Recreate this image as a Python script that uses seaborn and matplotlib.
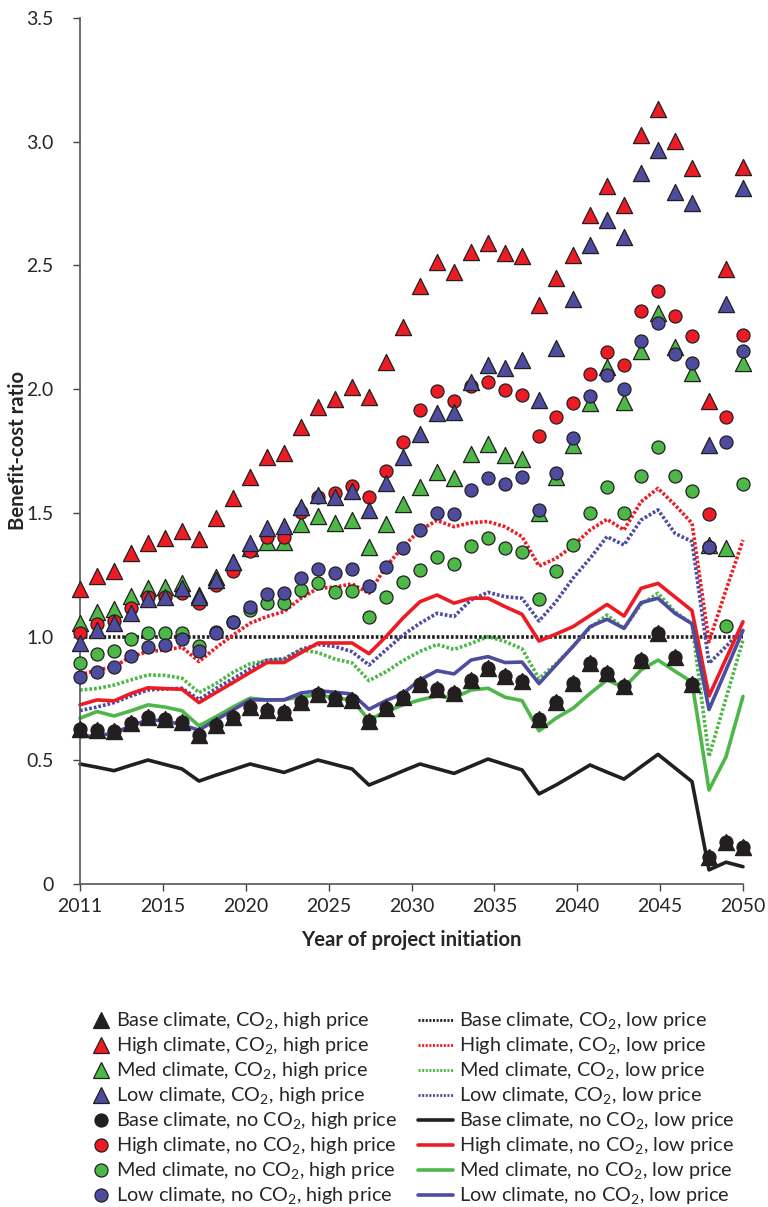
import numpy as np
import pandas as pd
import matplotlib
matplotlib.use("Agg")
import matplotlib.pyplot as plt
from matplotlib.lines import Line2D
import seaborn as sns

years = list(range(2011, 2051))

# ---- marker series (high price) ----
base_co2_high = [0.625, 0.622, 0.620, 0.650, 0.676, 0.666, 0.656, 0.602, 0.643, 0.676,
                 0.714, 0.703, 0.697, 0.735, 0.768, 0.751, 0.744, 0.660, 0.710, 0.755,
                 0.808, 0.787, 0.773, 0.825, 0.874, 0.841, 0.820, 0.666, 0.737, 0.811,
                 0.895, 0.854, 0.800, 0.905, 1.013, 0.919, 0.808, 0.110, 0.171, 0.148]
high_co2_high = [1.191, 1.245, 1.266, 1.337, 1.380, 1.400, 1.428, 1.393, 1.478, 1.559,
                 1.646, 1.724, 1.743, 1.848, 1.929, 1.959, 2.010, 1.967, 2.111, 2.253,
                 2.417, 2.515, 2.475, 2.556, 2.589, 2.552, 2.538, 2.339, 2.448, 2.542,
                 2.704, 2.819, 2.744, 3.027, 3.131, 3.003, 2.893, 1.952, 2.484, 2.897]
med_co2_high = [1.056, 1.101, 1.110, 1.164, 1.195, 1.200, 1.218, 1.170, 1.240, 1.300,
                1.357, 1.384, 1.384, 1.455, 1.487, 1.460, 1.471, 1.363, 1.455, 1.537,
                1.605, 1.665, 1.640, 1.736, 1.779, 1.734, 1.719, 1.498, 1.646, 1.774,
                1.943, 2.091, 1.950, 2.155, 2.309, 2.172, 2.064, 1.370, 1.357, 2.104]
low_co2_high = [0.975, 1.027, 1.054, 1.094, 1.151, 1.161, 1.195, 1.161, 1.229, 1.303,
                1.377, 1.438, 1.447, 1.525, 1.572, 1.566, 1.590, 1.512, 1.620, 1.726,
                1.820, 1.902, 1.909, 2.030, 2.098, 2.084, 2.118, 1.956, 2.165, 2.363,
                2.583, 2.684, 2.616, 2.875, 2.967, 2.798, 2.751, 1.774, 2.344, 2.811]
base_noco2_high = [0.625, 0.622, 0.620, 0.650, 0.676, 0.666, 0.656, 0.602, 0.643, 0.676,
                   0.714, 0.703, 0.697, 0.735, 0.768, 0.751, 0.744, 0.660, 0.710, 0.755,
                   0.808, 0.787, 0.773, 0.825, 0.874, 0.841, 0.820, 0.666, 0.737, 0.811,
                   0.895, 0.854, 0.800, 0.905, 1.013, 0.919, 0.808, 0.110, 0.171, 0.148]
high_noco2_high = [1.013, 1.051, 1.064, 1.114, 1.159, 1.161, 1.178, 1.135, 1.209, 1.263,
                   1.347, 1.401, 1.401, 1.502, 1.566, 1.579, 1.609, 1.563, 1.671, 1.788,
                   1.916, 1.992, 1.952, 2.013, 2.030, 1.997, 1.977, 1.811, 1.886, 1.946,
                   2.060, 2.152, 2.098, 2.317, 2.397, 2.296, 2.215, 1.496, 1.886, 2.219]
med_noco2_high = [0.895, 0.930, 0.943, 0.989, 1.016, 1.016, 1.013, 0.962, 1.020, 1.060,
                  1.108, 1.137, 1.137, 1.188, 1.215, 1.182, 1.186, 1.080, 1.159, 1.221,
                  1.269, 1.321, 1.292, 1.366, 1.400, 1.357, 1.343, 1.153, 1.263, 1.370,
                  1.498, 1.603, 1.498, 1.650, 1.765, 1.650, 1.588, 1.360, 1.043, 1.617]
low_noco2_high = [0.838, 0.858, 0.876, 0.922, 0.957, 0.966, 0.989, 0.943, 1.016, 1.060,
                  1.118, 1.172, 1.175, 1.238, 1.273, 1.258, 1.272, 1.206, 1.283, 1.357,
                  1.431, 1.498, 1.496, 1.594, 1.639, 1.616, 1.644, 1.510, 1.663, 1.801,
                  1.972, 2.057, 2.000, 2.196, 2.266, 2.142, 2.104, 1.363, 1.788, 2.156]

# ---- line series (low price) ----
base_co2_low = [1.0] * 40
high_co2_low = [0.845, 0.865, 0.878, 0.919, 0.939, 0.946, 0.957, 0.899, 0.955, 1.006,
                1.054, 1.081, 1.101, 1.155, 1.195, 1.200, 1.213, 1.175, 1.283, 1.363,
                1.431, 1.469, 1.444, 1.460, 1.465, 1.444, 1.404, 1.285, 1.316, 1.366,
                1.431, 1.474, 1.431, 1.545, 1.599, 1.532, 1.458, 0.979, 1.188, 1.390]
med_co2_low = [0.784, 0.790, 0.804, 0.825, 0.845, 0.843, 0.832, 0.773, 0.810, 0.855,
               0.890, 0.903, 0.905, 0.946, 0.935, 0.909, 0.894, 0.822, 0.858, 0.903,
               0.940, 0.968, 0.948, 0.972, 1.000, 0.980, 0.951, 0.830, 0.890, 0.960,
               1.035, 1.087, 1.033, 1.130, 1.175, 1.100, 1.052, 0.515, 0.750, 0.986]
low_co2_low = [0.701, 0.715, 0.733, 0.760, 0.784, 0.788, 0.791, 0.746, 0.790, 0.830,
               0.870, 0.905, 0.910, 0.948, 0.968, 0.960, 0.939, 0.885, 0.946, 1.006,
               1.054, 1.094, 1.081, 1.148, 1.179, 1.161, 1.155, 1.063, 1.141, 1.236,
               1.316, 1.404, 1.370, 1.471, 1.512, 1.417, 1.384, 0.892, 0.960, 1.030]
base_noco2_low = [0.485, 0.472, 0.458, 0.480, 0.501, 0.483, 0.465, 0.416, 0.440, 0.462,
                  0.485, 0.468, 0.451, 0.476, 0.501, 0.483, 0.465, 0.400, 0.428, 0.457,
                  0.485, 0.466, 0.447, 0.476, 0.505, 0.483, 0.461, 0.364, 0.400, 0.440,
                  0.481, 0.452, 0.424, 0.474, 0.524, 0.469, 0.414, 0.057, 0.088, 0.070]
high_noco2_low = [0.724, 0.744, 0.740, 0.770, 0.793, 0.790, 0.787, 0.733, 0.774, 0.814,
                  0.855, 0.895, 0.895, 0.935, 0.974, 0.974, 0.974, 0.931, 1.000, 1.075,
                  1.141, 1.168, 1.135, 1.155, 1.155, 1.121, 1.090, 0.982, 1.010, 1.040,
                  1.085, 1.130, 1.083, 1.195, 1.215, 1.160, 1.105, 0.760, 0.910, 1.060]
med_noco2_low = [0.670, 0.697, 0.679, 0.700, 0.724, 0.715, 0.700, 0.639, 0.676, 0.715,
                 0.751, 0.744, 0.745, 0.757, 0.764, 0.752, 0.744, 0.663, 0.697, 0.724,
                 0.744, 0.760, 0.752, 0.784, 0.791, 0.755, 0.741, 0.619, 0.670, 0.710,
                 0.770, 0.825, 0.794, 0.865, 0.905, 0.860, 0.816, 0.380, 0.514, 0.758]
low_noco2_low = [0.595, 0.600, 0.609, 0.640, 0.663, 0.660, 0.643, 0.622, 0.663, 0.703,
                 0.744, 0.744, 0.744, 0.772, 0.781, 0.775, 0.768, 0.706, 0.741, 0.770,
                 0.825, 0.862, 0.849, 0.905, 0.919, 0.895, 0.897, 0.810, 0.885, 0.960,
                 1.040, 1.070, 1.033, 1.137, 1.155, 1.094, 1.052, 0.705, 0.865, 1.025]

x_tick_labels = ["2011", "2015", "2020", "2025", "2030", "2035", "2040", "2045", "2050"]
y_tick_labels = ["0", "0.5", "1.0", "1.5", "2.0", "2.5", "3.0", "3.5"]

BLACK = "#231F20"
RED = "#ED1C24"
GREEN = "#4DB748"
BLUE = "#4D4C9F"
EDGE = "#231F20"

sns.set_style("ticks")
FONT = ["Lato", "DejaVu Sans"]
plt.rcParams["font.family"] = FONT
plt.rcParams["mathtext.fontset"] = "custom"
plt.rcParams["mathtext.rm"] = "Lato"
FS_TICK = 14.0
FS_LAB = 14.6
FS_LEG = 14.3

fig = plt.figure(figsize=(7.68, 12.07), dpi=100)
ax = fig.add_axes([80 / 768, 1 - 884 / 1207, (743 - 80) / 768, (884 - 18) / 1207])

co2 = r"CO$_{\mathregular{2}}$"
marker_series = [
    ("Base climate, " + co2 + ", high price", base_co2_high, "^", BLACK),
    ("High climate, " + co2 + ", high price", high_co2_high, "^", RED),
    ("Med climate, " + co2 + ", high price", med_co2_high, "^", GREEN),
    ("Low climate, " + co2 + ", high price", low_co2_high, "^", BLUE),
    ("Base climate, no " + co2 + ", high price", base_noco2_high, "o", BLACK),
    ("High climate, no " + co2 + ", high price", high_noco2_high, "o", RED),
    ("Med climate, no " + co2 + ", high price", med_noco2_high, "o", GREEN),
    ("Low climate, no " + co2 + ", high price", low_noco2_high, "o", BLUE),
]
line_series = [
    ("Base climate, " + co2 + ", low price", base_co2_low, ":", BLACK),
    ("High climate, " + co2 + ", low price", high_co2_low, ":", RED),
    ("Med climate, " + co2 + ", low price", med_co2_low, ":", GREEN),
    ("Low climate, " + co2 + ", low price", low_co2_low, ":", BLUE),
    ("Base climate, no " + co2 + ", low price", base_noco2_low, "-", BLACK),
    ("High climate, no " + co2 + ", low price", high_noco2_low, "-", RED),
    ("Med climate, no " + co2 + ", low price", med_noco2_low, "-", GREEN),
    ("Low climate, no " + co2 + ", low price", low_noco2_low, "-", BLUE),
]

LW = 2.6
DOT = (0, (0.75, 0.55))

# lines
for i, (name, vals, ls, col) in enumerate(line_series):
    df = pd.DataFrame({"year": years, "ratio": vals})
    sns.lineplot(data=df, x="year", y="ratio", ax=ax, color=col, linewidth=LW,
                 zorder=2 + i * 0.01, clip_on=False)
    ln = ax.lines[-1]
    if ls == ":":
        ln.set_linestyle(DOT)
        ln.set_dash_capstyle("butt")

# markers, drawn in an order that reproduces the overlaps
draw_order = [0, 1, 2, 5, 3, 6, 7, 4]
for j, idx in enumerate(draw_order):
    name, vals, mk, col = marker_series[idx]
    df = pd.DataFrame({"year": years, "ratio": vals})
    size = 135 if mk == "^" else 88
    sns.scatterplot(data=df, x="year", y="ratio", ax=ax, marker=mk, s=size,
                    color=col, edgecolor=EDGE, linewidth=0.9,
                    zorder=3 + j * 0.1, clip_on=False, legend=False)

ax.set_xlim(2011, 2050)
ax.set_ylim(0, 3.5)
ax.set_xticks(np.linspace(2011, 2050, 9))
ax.set_xticklabels(x_tick_labels, fontsize=FS_TICK)
ax.set_yticks(np.arange(0, 3.51, 0.5))
ax.set_yticklabels(y_tick_labels, fontsize=FS_TICK)
ax.tick_params(axis="both", direction="out", length=5, width=1, color="#444444")
ax.tick_params(axis="y", pad=14)
ax.tick_params(axis="x", pad=5)
sns.despine(ax=ax)
for sp in ["left", "bottom"]:
    ax.spines[sp].set_color("#555555")
    ax.spines[sp].set_linewidth(1.2)

ax.set_xlabel("Year of project initiation", fontsize=FS_LAB, fontweight="bold")
ax.set_ylabel("Benefit-cost ratio", fontsize=FS_LAB, fontweight="bold")
ax.xaxis.set_label_coords(0.5, (884 - 940) / 866)
ax.xaxis.label.set_verticalalignment("center")
ax.yaxis.set_label_coords((18 - 80) / 663, 0.5)
ax.yaxis.label.set_verticalalignment("center")

# legends
left_handles = [Line2D([], [], linestyle="none", marker=mk, markersize=(11.6 if mk == "^" else 9.4),
                       markerfacecolor=col, markeredgecolor=EDGE, markeredgewidth=0.9)
                for (_, _, mk, col) in marker_series]
right_handles = [Line2D([], [], color=col, linewidth=(LW if ls == "-" else 2.0),
                        linestyle=(DOT if ls == ":" else "-"))
                 for (_, _, ls, col) in line_series]

leg1 = fig.legend(left_handles, [m[0] for m in marker_series], loc="upper left",
                  bbox_to_anchor=(91 / 768, 1 - 1011 / 1207), frameon=False,
                  fontsize=FS_LEG, handlelength=1.0, handletextpad=0.25,
                  labelspacing=0.185, borderpad=0, borderaxespad=0)
leg2 = fig.legend(right_handles, [l[0] for l in line_series], loc="upper left",
                  bbox_to_anchor=(418 / 768, 1 - 1011 / 1207), frameon=False,
                  fontsize=FS_LEG, handlelength=1.76, handletextpad=0.3,
                  labelspacing=0.185, borderpad=0, borderaxespad=0)

fig.savefig("out.png", dpi=100)
